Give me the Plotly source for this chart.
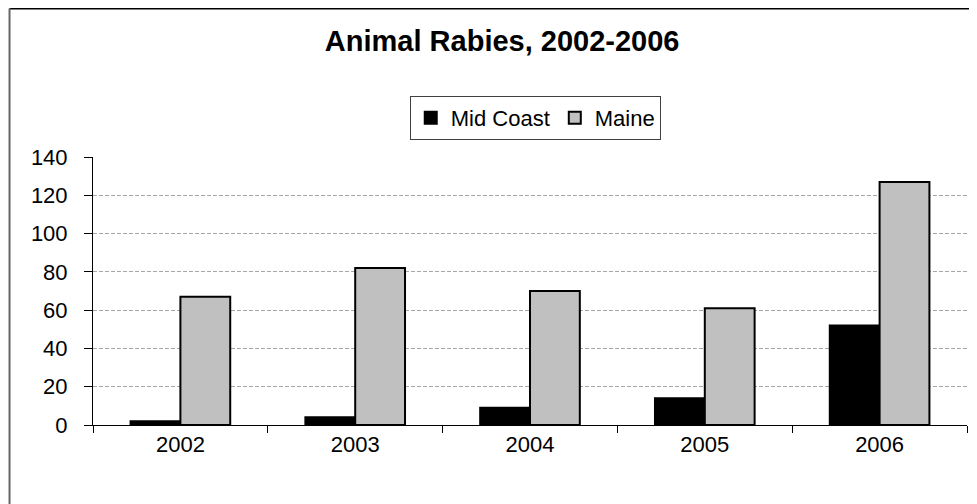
import plotly.graph_objects as go

years = ["2002", "2003", "2004", "2005", "2006"]
mid_coast = [2, 4, 9, 14, 52]
maine = [67, 82, 70, 61, 127]
y_ticks = [0, 20, 40, 60, 80, 100, 120, 140]

FONT = "Liberation Sans, Arial, sans-serif"

fig = go.Figure()
fig.add_trace(go.Bar(name="Mid Coast", x=years, y=mid_coast,
                     marker=dict(color="#000000", line=dict(color="#000000", width=2))))
fig.add_trace(go.Bar(name="Maine", x=years, y=maine,
                     marker=dict(color="#C0C0C0", line=dict(color="#000000", width=2))))

# page has an 8px body margin, so figure is 969x496 visible
fig.update_layout(
    width=969, height=496,
    margin=dict(l=85, r=10, t=149, b=79),
    paper_bgcolor="white", plot_bgcolor="white",
    barmode="group", bargap=0.43, bargroupgap=0,
    font=dict(family=FONT, size=22, color="black"),
    title=dict(text="<b>Animal Rabies, 2002-2006</b>", x=0.51, xanchor="center",
               y=0.933, yanchor="middle", yref="container",
               font=dict(family=FONT, size=29, color="black")),
    legend=dict(orientation="h", x=0.506, xanchor="center", y=1.228, yanchor="top",
                bordercolor="#404040", borderwidth=1, bgcolor="white",
                font=dict(family=FONT, size=22), itemwidth=30,
                traceorder="normal"),
    showlegend=True,
)
fig.update_xaxes(showline=True, linecolor="black", linewidth=1,
                 ticks="outside", ticklen=7, tickcolor="black", tickson="boundaries",
                 showgrid=False, tickfont=dict(size=22))
fig.update_yaxes(range=[0, 140], tickvals=y_ticks, showline=True, linecolor="black", linewidth=1,
                 ticks="outside", ticklen=8, tickcolor="black", ticklabelstandoff=12,
                 showgrid=True, gridcolor="#A6A6A6", griddash="4px,2px", gridwidth=1,
                 zeroline=False, tickfont=dict(size=22))

# outer chart frame (partially cropped like reference)
fig.add_shape(type="line", xref="paper", yref="paper",
              x0=-0.0955, x1=1.05, y0=1.554, y1=1.554,
              line=dict(color="black", width=2))
fig.add_shape(type="line", xref="paper", yref="paper",
              x0=-0.0955, x1=-0.0955, y0=1.554, y1=-0.4,
              line=dict(color="#666666", width=2))

fig.write_html("out.html")
